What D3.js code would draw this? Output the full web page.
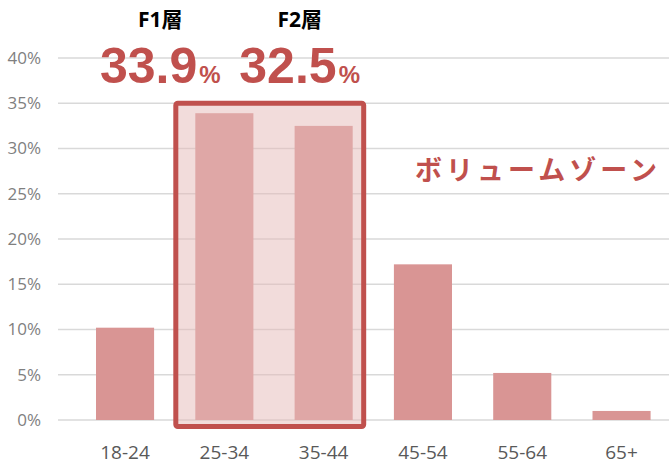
<!DOCTYPE html>
<html>
<head>
<meta charset="utf-8">
<script src="https://cdn.jsdelivr.net/npm/d3@7"></script>
<style>
  body { margin: 0; background: #fff; }
  text { font-family: "Open Sans", "Noto Sans CJK JP", sans-serif; }
</style>
</head>
<body>
<div id="chart"></div>
<script>
const categories = ["18-24", "25-34", "35-44", "45-54", "55-64", "65+"];
const shares = [10.2, 33.9, 32.5, 17.2, 5.2, 1.0];
const yTicks = [0, 5, 10, 15, 20, 25, 30, 35, 40];
const highlighted = ["25-34", "35-44"];
const layerLabels = ["F1層", "F2層"];
const zoneLabel = "ボリュームゾーン";

const width = 669, height = 464;
const red = "#c0504d";

const svg = d3.select("#chart").append("svg")
  .attr("width", width)
  .attr("height", height);

const x = d3.scaleBand().domain(categories).range([75.4, 671.2]).paddingInner(0.415).paddingOuter(0.2075);
const y = d3.scaleLinear().domain([0, 40]).range([420, 58]);

// gridlines
svg.append("g")
  .selectAll("line")
  .data(yTicks)
  .join("line")
  .attr("x1", 58).attr("x2", width)
  .attr("y1", d => y(d)).attr("y2", d => y(d))
  .attr("stroke", "#d9d9d9")
  .attr("stroke-width", 1.5);

// y labels
svg.append("g")
  .selectAll("text")
  .data(yTicks)
  .join("text")
  .attr("x", 41)
  .attr("y", d => y(d))
  .attr("dy", "0.35em")
  .attr("text-anchor", "end")
  .style("font-size", "17px")
  .style("fill", "#7f7f7f")
  .text(d => d + "%");

// bars
svg.append("g")
  .selectAll("rect")
  .data(categories)
  .join("rect")
  .attr("x", d => x(d))
  .attr("width", x.bandwidth())
  .attr("y", (d, i) => y(shares[i]))
  .attr("height", (d, i) => y(0) - y(shares[i]))
  .attr("fill", "#d99594");

// x labels
svg.append("g")
  .selectAll("text")
  .data(categories)
  .join("text")
  .attr("x", d => x(d) + x.bandwidth() / 2)
  .attr("y", 452)
  .attr("dy", "0.35em")
  .attr("text-anchor", "middle")
  .style("font-size", "19px")
  .style("fill", "#595959")
  .text(d => d);

// volume zone box (translucent so bars and grid show through)
const boxLeft = x(highlighted[0]) - 19.5;
const boxRight = x(highlighted[1]) + x.bandwidth() + 11;
svg.append("rect")
  .attr("x", boxLeft)
  .attr("y", y(35))
  .attr("width", boxRight - boxLeft)
  .attr("height", y(0) + 6.5 - y(35))
  .attr("rx", 2)
  .attr("fill", "rgba(230,185,184,0.5)")
  .attr("stroke", red)
  .attr("stroke-width", 5);

// layer labels and big percentages
const labelShift = [-64, -24];
highlighted.forEach((c, i) => {
  const cx = x(c) + x.bandwidth() / 2 + labelShift[i];
  svg.append("text")
    .attr("x", cx)
    .attr("y", 20)
    .attr("dy", "0.35em")
    .attr("text-anchor", "middle")
    .style("font-size", "21px")
    .style("font-weight", "bold")
    .style("fill", "#000")
    .text(layerLabels[i]);

  const big = svg.append("text")
    .attr("x", cx)
    .attr("y", 83)
    .attr("text-anchor", "middle")
    .style("font-family", "'Liberation Sans', Arial, sans-serif")
    .style("fill", red)
    .style("font-weight", "bold");
  big.append("tspan").style("font-size", "50px").text(shares[categories.indexOf(c)].toFixed(1));
  big.append("tspan").style("font-size", "24px").attr("dx", 2).text("%");
});

svg.append("text")
  .attr("x", 538)
  .attr("y", 171)
  .attr("dy", "0.35em")
  .attr("text-anchor", "middle")
  .style("font-family", "'Noto Sans CJK JP', sans-serif")
  .style("font-size", "27px")
  .style("font-weight", "bold")
  .style("letter-spacing", "4px")
  .style("fill", red)
  .text(zoneLabel);
</script>
</body>
</html>
